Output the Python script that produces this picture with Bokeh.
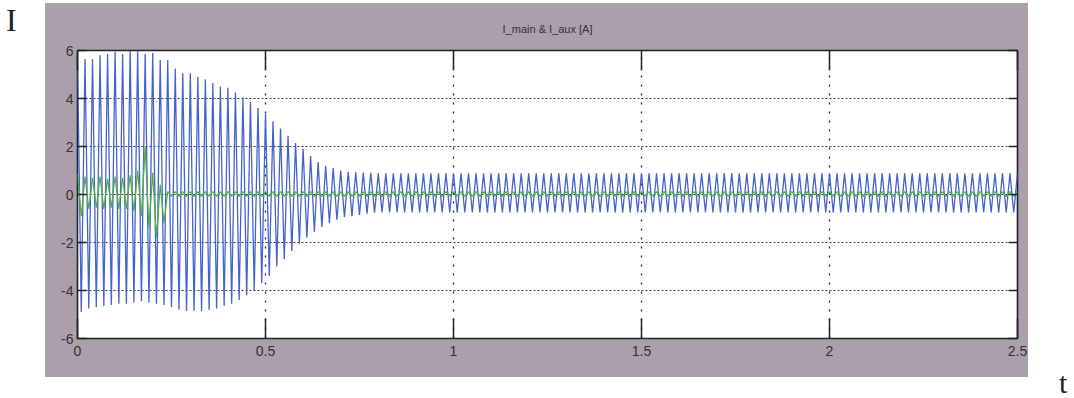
import numpy as np
from bokeh.plotting import figure
from bokeh.layouts import column
from bokeh.models import LinearAxis, FixedTicker, Range1d, Div
from bokeh.embed import file_html
from bokeh.resources import INLINE

# ---------------- data ----------------
PERIOD = 0.02  # 50 Hz supply: one peak + one trough per period

# I_main: positive peaks at t = 0, 0.02, 0.04 ... 2.50
main_peaks = [
    5.70, 5.65, 5.65, 5.80, 5.85, 5.95, 5.85, 6.00, 6.00, 5.85,
    5.90, 5.60, 5.60, 5.25, 5.05, 5.05, 4.90, 4.80, 4.65, 4.50,
    4.45, 4.25, 4.05, 3.85, 3.60, 3.35, 3.05, 2.75, 2.45, 2.15,
    1.90, 1.60, 1.35, 1.20, 1.10, 1.00, 0.95, 0.92, 0.90, 0.90,
    0.88, 0.88, 0.88, 0.88, 0.88, 0.88, 0.88, 0.88, 0.88, 0.88,
    0.88, 0.88, 0.88, 0.88, 0.88, 0.88, 0.88, 0.88, 0.88, 0.88,
    0.88, 0.88, 0.88, 0.88, 0.88, 0.88, 0.88, 0.88, 0.88, 0.88,
    0.88, 0.88, 0.88, 0.88, 0.88, 0.88, 0.88, 0.88, 0.88, 0.88,
    0.88, 0.88, 0.88, 0.88, 0.88, 0.88, 0.88, 0.88, 0.88, 0.88,
    0.88, 0.88, 0.88, 0.88, 0.88, 0.88, 0.88, 0.88, 0.88, 0.88,
    0.88, 0.88, 0.88, 0.88, 0.88, 0.88, 0.88, 0.88, 0.88, 0.88,
    0.88, 0.88, 0.88, 0.88, 0.88, 0.88, 0.88, 0.88, 0.88, 0.88,
    0.88, 0.88, 0.88, 0.88, 0.88, 0.88,
]
# I_main: negative troughs at t = 0.01, 0.03 ... 2.49
main_troughs = [
    -4.90, -4.75, -4.70, -4.65, -4.60, -4.55, -4.55, -4.50, -4.45, -4.50,
    -4.55, -4.60, -4.70, -4.80, -4.85, -4.85, -4.85, -4.80, -4.75, -4.65,
    -4.55, -4.40, -4.20, -4.00, -3.70, -3.40, -3.00, -2.70, -2.35, -2.05,
    -1.80, -1.55, -1.35, -1.20, -1.05, -0.95, -0.90, -0.85, -0.80, -0.76,
    -0.75, -0.75, -0.75, -0.75, -0.75, -0.75, -0.75, -0.75, -0.75, -0.75,
    -0.75, -0.75, -0.75, -0.75, -0.75, -0.75, -0.75, -0.75, -0.75, -0.75,
    -0.75, -0.75, -0.75, -0.75, -0.75, -0.75, -0.75, -0.75, -0.75, -0.75,
    -0.75, -0.75, -0.75, -0.75, -0.75, -0.75, -0.75, -0.75, -0.75, -0.75,
    -0.75, -0.75, -0.75, -0.75, -0.75, -0.75, -0.75, -0.75, -0.75, -0.75,
    -0.75, -0.75, -0.75, -0.75, -0.75, -0.75, -0.75, -0.75, -0.75, -0.75,
    -0.75, -0.75, -0.75, -0.75, -0.75, -0.75, -0.75, -0.75, -0.75, -0.75,
    -0.75, -0.75, -0.75, -0.75, -0.75, -0.75, -0.75, -0.75, -0.75, -0.75,
    -0.75, -0.75, -0.75, -0.75, -0.75,
]
# I_aux: positive peaks at t = 0, 0.02 ... 2.50
aux_peaks = [
    0.85, 0.75, 0.70, 0.75, 0.65, 0.75, 0.70, 0.80, 1.00, 2.00,
    0.90, 0.40, 0.12, 0.12, 0.12, 0.12, 0.12, 0.12, 0.12, 0.12,
    0.12, 0.12, 0.12, 0.12, 0.12, 0.12, 0.12, 0.12, 0.12, 0.12,
    0.12, 0.12, 0.12, 0.12, 0.12, 0.12, 0.12, 0.12, 0.12, 0.12,
    0.12, 0.12, 0.12, 0.12, 0.12, 0.12, 0.12, 0.12, 0.12, 0.12,
    0.12, 0.12, 0.12, 0.12, 0.12, 0.12, 0.12, 0.12, 0.12, 0.12,
    0.12, 0.12, 0.12, 0.12, 0.12, 0.12, 0.12, 0.12, 0.12, 0.12,
    0.12, 0.12, 0.12, 0.12, 0.12, 0.12, 0.12, 0.12, 0.12, 0.12,
    0.12, 0.12, 0.12, 0.12, 0.12, 0.12, 0.12, 0.12, 0.12, 0.12,
    0.12, 0.12, 0.12, 0.12, 0.12, 0.12, 0.12, 0.12, 0.12, 0.12,
    0.12, 0.12, 0.12, 0.12, 0.12, 0.12, 0.12, 0.12, 0.12, 0.12,
    0.12, 0.12, 0.12, 0.12, 0.12, 0.12, 0.12, 0.12, 0.12, 0.12,
    0.12, 0.12, 0.12, 0.12, 0.12, 0.12,
]
# I_aux: negative troughs at t = 0.01 ... 2.49
aux_troughs = [
    -0.90, -0.60, -0.55, -0.60, -0.55, -0.60, -0.60, -0.70, -0.90, -1.40,
    -1.80, -1.20, -0.08, -0.08, -0.08, -0.08, -0.08, -0.08, -0.08, -0.08,
    -0.08, -0.08, -0.08, -0.08, -0.08, -0.08, -0.08, -0.08, -0.08, -0.08,
    -0.08, -0.08, -0.08, -0.08, -0.08, -0.08, -0.08, -0.08, -0.08, -0.08,
    -0.08, -0.08, -0.08, -0.08, -0.08, -0.08, -0.08, -0.08, -0.08, -0.08,
    -0.08, -0.08, -0.08, -0.08, -0.08, -0.08, -0.08, -0.08, -0.08, -0.08,
    -0.08, -0.08, -0.08, -0.08, -0.08, -0.08, -0.08, -0.08, -0.08, -0.08,
    -0.08, -0.08, -0.08, -0.08, -0.08, -0.08, -0.08, -0.08, -0.08, -0.08,
    -0.08, -0.08, -0.08, -0.08, -0.08, -0.08, -0.08, -0.08, -0.08, -0.08,
    -0.08, -0.08, -0.08, -0.08, -0.08, -0.08, -0.08, -0.08, -0.08, -0.08,
    -0.08, -0.08, -0.08, -0.08, -0.08, -0.08, -0.08, -0.08, -0.08, -0.08,
    -0.08, -0.08, -0.08, -0.08, -0.08, -0.08, -0.08, -0.08, -0.08, -0.08,
    -0.08, -0.08, -0.08, -0.08, -0.08,
]

x_ticks = [0, 0.5, 1, 1.5, 2, 2.5]
x_tick_labels = ["0", "0.5", "1", "1.5", "2", "2.5"]
y_ticks = [-6, -4, -2, 0, 2, 4, 6]
y_tick_labels = ["-6", "-4", "-2", "0", "2", "4", "6"]

title_text = "I_main & I_aux [A]"
y_name = "I"
x_name = "t"


def interleave(peaks, troughs):
    t, v = [], []
    for k, pv in enumerate(peaks):
        t.append(k * PERIOD)
        v.append(pv)
        if k < len(troughs):
            t.append(k * PERIOD + PERIOD / 2)
            v.append(troughs[k])
    return t, v


t_main, v_main = interleave(main_peaks, main_troughs)
t_aux, v_aux = interleave(aux_peaks, aux_troughs)

# ---------------- figure ----------------
FRAME_GRAY = "#aa9fab"
LABEL_FONT = "Liberation Sans"

p = figure(
    width=1074, height=398,
    x_range=Range1d(0, 2.5), y_range=Range1d(-6, 6),
    output_backend="svg", toolbar_location=None,
    min_border_left=77, min_border_right=57,
    min_border_top=50, min_border_bottom=60,
    x_axis_location="below", y_axis_location="left",
)
p.border_fill_color = None
p.background_fill_color = "white"
p.outline_line_color = "#222222"
p.outline_line_width = 1.6
p.styles = {
    "background": f"linear-gradient({FRAME_GRAY}, {FRAME_GRAY}) 45px 3px / 983px 374px no-repeat",
}

# title
p.title.text = title_text
p.title.align = "center"
p.title.text_font = LABEL_FONT
p.title.text_font_size = "11px"
p.title.text_font_style = "normal"
p.title.text_color = "#333333"
p.title.standoff = 31

# main axes
xa = p.xaxis[0]
xa.ticker = FixedTicker(ticks=x_ticks)
xa.major_label_overrides = dict(zip(x_ticks, x_tick_labels))
ya = p.yaxis[0]
ya.ticker = FixedTicker(ticks=y_ticks)
ya.major_label_overrides = dict(zip(y_ticks, y_tick_labels))

for ax in (xa, ya):
    ax.axis_line_color = None
    ax.major_tick_out = 0
    ax.minor_tick_line_color = None
    ax.major_tick_line_color = "#222222"
    ax.major_tick_line_width = 1.5
    ax.major_label_text_font = LABEL_FONT
    ax.major_label_text_font_size = "14px"
    ax.major_label_text_color = "#333333"
xa.major_tick_in = 20
xa.major_label_standoff = 7
ya.major_tick_in = 9
ya.major_label_standoff = 4

# mirrored tick marks on top and right (no labels)
top = LinearAxis(ticker=FixedTicker(ticks=x_ticks),
                 major_label_overrides={t: "" for t in x_ticks})
right = LinearAxis(ticker=FixedTicker(ticks=y_ticks),
                   major_label_overrides={t: "" for t in y_ticks})
for ax, tin in ((top, 20), (right, 9)):
    ax.axis_line_color = None
    ax.major_tick_out = 0
    ax.major_tick_in = tin
    ax.minor_tick_line_color = None
    ax.major_tick_line_color = "#222222"
    ax.major_tick_line_width = 1.5
    ax.major_label_standoff = 0
    ax.major_label_text_font_size = "1px"
p.add_layout(top, "above")
p.add_layout(right, "right")

# grid
p.xgrid.ticker = FixedTicker(ticks=x_ticks)
p.ygrid.ticker = FixedTicker(ticks=y_ticks)
p.xgrid.grid_line_color = "#222222"
p.xgrid.grid_line_dash = "2 7"
p.xgrid.grid_line_width = 1.3
p.ygrid.grid_line_color = "#333333"
p.ygrid.grid_line_dash = "2 2"
p.ygrid.grid_line_width = 1

# signals
p.line(t_main, v_main, line_color="#4464cc", line_width=1.3)
p.line(t_aux, v_aux, line_color="#4fae3c", line_width=1.2)

# outer axis names, outside the grey scope panel
name_style = {
    "position": "absolute",
    "font-family": "Liberation Serif",
    "color": "#222222",
    "margin": "0",
    "padding": "0",
}
div_i = Div(text=y_name, styles={**name_style, "left": "6px", "top": "4px",
                                  "font-size": "32px", "line-height": "32px"})
div_t = Div(text=x_name, styles={**name_style, "left": "1059px", "top": "368px",
                                  "font-size": "30px", "line-height": "30px"})

layout = column(p, div_i, div_t)
open("out.html", "w").write(file_html(layout, INLINE))
